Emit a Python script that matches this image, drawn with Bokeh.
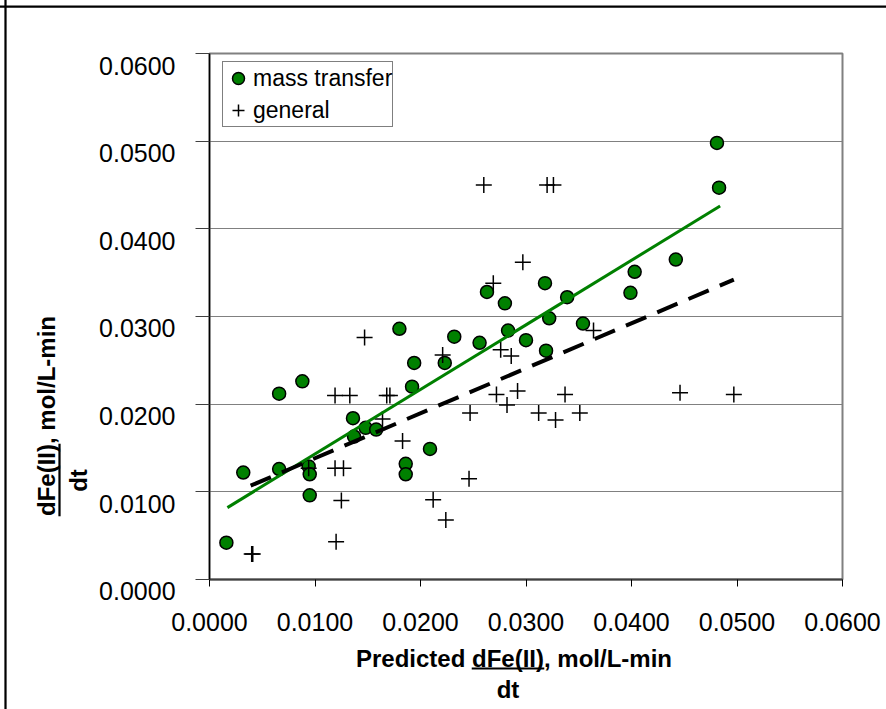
from bokeh.plotting import figure
from bokeh.models import Range1d, FixedTicker, Label, LinearAxis
from bokeh.embed import file_html
from bokeh.resources import INLINE

# ---------------- data ----------------
mass_x = [0.0016, 0.0032, 0.0066, 0.0066, 0.0088, 0.0094, 0.0095, 0.0095, 0.0136, 0.0137,
          0.0148, 0.0158, 0.0180, 0.0194, 0.0192, 0.0186, 0.0186, 0.0209, 0.0223, 0.0232,
          0.0256, 0.0263, 0.0280, 0.0283, 0.0300, 0.0318, 0.0339, 0.0322, 0.0319, 0.0354,
          0.0399, 0.0403, 0.0442, 0.0481, 0.0483]
mass_y = [0.0042, 0.0122, 0.0126, 0.0212, 0.0226, 0.0129, 0.0120, 0.0096, 0.0184, 0.0163,
          0.0173, 0.0171, 0.0286, 0.0247, 0.0220, 0.0132, 0.0120, 0.0149, 0.0247, 0.0277,
          0.0270, 0.0328, 0.0315, 0.0284, 0.0273, 0.0338, 0.0322, 0.0298, 0.0261, 0.0292,
          0.0327, 0.0351, 0.0365, 0.0498, 0.0447]

gen_x = [0.0040, 0.0041, 0.0094, 0.0119, 0.0127, 0.0125, 0.0120, 0.0119, 0.0133, 0.0147,
         0.0164, 0.0168, 0.0171, 0.0183, 0.0212, 0.0224, 0.0221, 0.0246, 0.0247, 0.0260,
         0.0269, 0.0272, 0.0276, 0.0282, 0.0286, 0.0292, 0.0297, 0.0312, 0.0320, 0.0326,
         0.0328, 0.0337, 0.0351, 0.0364, 0.0446, 0.0497]
gen_y = [0.0029, 0.0029, 0.0127, 0.0127, 0.0127, 0.0090, 0.0043, 0.0210, 0.0210, 0.0276,
         0.0183, 0.0210, 0.0210, 0.0158, 0.0091, 0.0068, 0.0256, 0.0115, 0.0190, 0.0450,
         0.0338, 0.0211, 0.0262, 0.0199, 0.0255, 0.0215, 0.0362, 0.0190, 0.0450, 0.0450,
         0.0182, 0.0211, 0.0190, 0.0284, 0.0213, 0.0211]

# trend lines (end points)
mass_fit_x = [0.0017, 0.0484]
mass_fit_y = [0.0082, 0.0426]
gen_fit_x = [0.0039, 0.0497]
gen_fit_y = [0.0107, 0.0342]

tick_values = [0.0, 0.01, 0.02, 0.03, 0.04, 0.05, 0.06]
x_tick_labels = ["0.0000", "0.0100", "0.0200", "0.0300", "0.0400", "0.0500", "0.0600"]
y_tick_labels = ["0.0000", "0.0100", "0.0200", "0.0300", "0.0400", "0.0500", "0.0600"]

series_names = ["mass transfer", "general"]
x_title = "Predicted dFe(II), mol/L-min"
y_title = "dFe(II), mol/L-min"
denominator = "dt"

FONT = "Liberation Sans"
GREEN = "#008000"

# ---------------- figure ----------------
LABEL_SHIFT = 0.0013688   # y tick labels sit 12 px below their gridlines
EPS = 1e-7
p = figure(frame_width=633, frame_height=526,
           min_border_left=209, min_border_right=44, min_border_top=53, min_border_bottom=130,
           x_range=Range1d(0, 0.06), y_range=Range1d(0, 0.06),
           output_backend="svg", toolbar_location=None,
           background_fill_color="white", border_fill_color="white")
p.extra_y_ranges = {"ylab": Range1d(LABEL_SHIFT - EPS, 0.06 + LABEL_SHIFT + EPS)}

p.outline_line_color = "#808080"
p.outline_line_width = 2

p.xgrid.visible = False
p.ygrid.ticker = FixedTicker(ticks=tick_values)
p.ygrid.grid_line_color = "#808080"
p.ygrid.grid_line_width = 1

# x axis
p.xaxis.ticker = FixedTicker(ticks=tick_values)
p.xaxis.major_label_overrides = dict(zip(tick_values, x_tick_labels))
p.xaxis.axis_line_color = "#404040"
p.xaxis.axis_line_width = 2
p.xaxis.major_tick_out = 7
p.xaxis.major_tick_in = 0
p.xaxis.major_tick_line_color = "black"
p.xaxis.minor_tick_line_color = None
p.xaxis.major_label_text_font = FONT
p.xaxis.major_label_text_font_size = "25px"
p.xaxis.major_label_text_color = "black"
p.xaxis.major_label_standoff = 26

# y axis: line and ticks
p.yaxis.ticker = FixedTicker(ticks=tick_values)
p.yaxis.major_label_overrides = {t: "" for t in tick_values}
p.yaxis.major_label_standoff = 0
p.yaxis.axis_line_color = "black"
p.yaxis.axis_line_width = 1.5
p.yaxis.major_tick_out = 14
p.yaxis.major_tick_in = 0
p.yaxis.major_tick_line_color = "#404040"
p.yaxis.minor_tick_line_color = None

# y axis: tick labels (drawn slightly below the gridlines, as in the original)
ylab_axis = LinearAxis(y_range_name="ylab", bounds=(0, 0.06),
                       ticker=FixedTicker(ticks=tick_values[1:]),
                       major_label_overrides=dict(zip(tick_values[1:], y_tick_labels[1:])),
                       axis_line_color=None, major_tick_line_color=None,
                       minor_tick_line_color=None, major_tick_out=0, major_tick_in=0,
                       major_label_standoff=20, major_label_text_font=FONT,
                       major_label_text_font_size="25px", major_label_text_color="black")
p.add_layout(ylab_axis, "left")
# the lowest label lies below the frame, so it is placed as a label of its own
p.add_layout(Label(x=-0.00322, y=tick_values[0] - LABEL_SHIFT, text=y_tick_labels[0],
                   text_font=FONT, text_font_size="25px", text_align="right",
                   text_baseline="middle", text_color="black"), "above")

# ---------------- data marks ----------------
p.scatter(mass_x, mass_y, marker="circle", size=13, fill_color=GREEN,
          line_color="black", line_width=1.5, legend_label=series_names[0])
p.scatter(gen_x, gen_y, marker="cross", size=16, line_color="black",
          line_width=1.5, legend_label=series_names[1])
p.line(mass_fit_x, mass_fit_y, line_color=GREEN, line_width=3)
p.line(gen_fit_x, gen_fit_y, line_color="black", line_width=4, line_dash="22 12")

# legend
lg = p.legend[0]
lg.location = (13, 452)
lg.margin = 0
lg.label_text_font = FONT
lg.label_text_font_size = "23px"
lg.label_text_color = "black"
lg.border_line_color = "black"
lg.border_line_width = 1
lg.background_fill_color = "white"
lg.background_fill_alpha = 1
lg.padding = 0
lg.spacing = 0
lg.glyph_width = 30
lg.glyph_height = 32
lg.label_standoff = 0
lg.label_height = 32

# ---------------- axis titles ----------------
TS = "24px"
ANG = 1.5707963


def lab(side, x, y, text, align, angle=0.0):
    p.add_layout(Label(x=x, y=y, text=text, text_font=FONT, text_font_style="bold",
                       text_font_size=TS, text_align=align, text_baseline="middle",
                       angle=angle, text_color="black"), side)


def bar(x, y, half_len, angle=0.0):
    """a plain straight rule (underline / chart border); kept in the top panel,
    where it only takes up its (tiny) height"""
    p.add_layout(Label(x=x, y=y, text=" ", text_font=FONT, text_font_size="2px",
                       text_align="center", text_baseline="middle", angle=angle,
                       padding=(half_len, 0), background_fill_color="black",
                       text_color="black"), "above")


# x title
lab("below", 0.013886, -0.00901, x_title, "left")
lab("below", 0.028294, -0.01255, denominator, "center")
bar(0.028294, -0.010152, 36)

# y title (rotated)
lab("left", -0.015403, 0.007243, y_title, "left", ANG)
lab("left", -0.012464, 0.01129, denominator, "center", ANG)
bar(-0.014218, 0.011349, 36, ANG)

# outer chart border (left and top)
bar(-0.019336, 0.02498, 362, ANG)
bar(0.022844, 0.065359, 452)

open("out.html", "w").write(file_html(p, INLINE))
